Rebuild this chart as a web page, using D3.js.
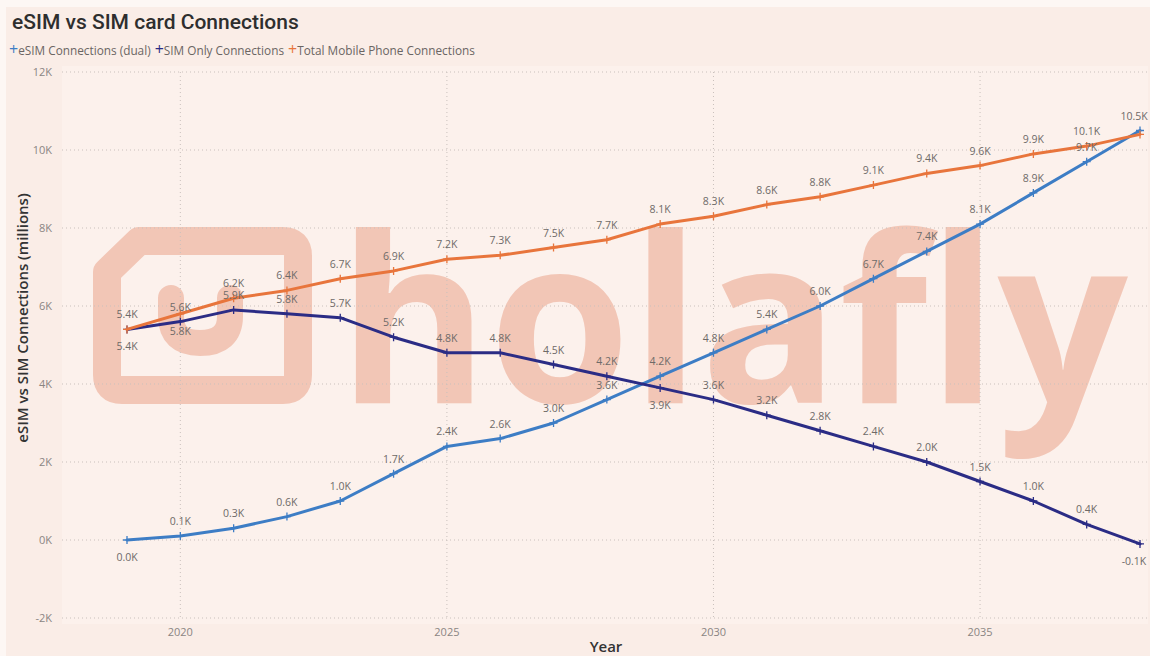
<!DOCTYPE html>
<html>
<head>
<meta charset="utf-8">
<script src="https://cdn.jsdelivr.net/npm/d3@7"></script>
<style>
  body { margin: 0; background: #fdf7f4; }
  svg { display: block; }
</style>
</head>
<body>
<svg id="chart" width="1150" height="656"></svg>
<script>
// data (connections, shown as K)
const years = [2019, 2020, 2021, 2022, 2023, 2024, 2025, 2026, 2027, 2028,
               2029, 2030, 2031, 2032, 2033, 2034, 2035, 2036, 2037, 2038];
const esim = [0, 100, 300, 600, 1000, 1700, 2400, 2600, 3000, 3600,
              4200, 4800, 5400, 6000, 6700, 7400, 8100, 8900, 9700, 10500];
const simOnly = [5400, 5600, 5900, 5800, 5700, 5200, 4800, 4800, 4500, 4200,
                 3900, 3600, 3200, 2800, 2400, 2000, 1500, 1000, 400, -100];
const total = [5400, 5800, 6200, 6400, 6700, 6900, 7200, 7300, 7500, 7700,
               8100, 8300, 8600, 8800, 9100, 9400, 9600, 9900, 10100, 10400];
const yTicks = [-2000, 0, 2000, 4000, 6000, 8000, 10000, 12000];
const xTicks = [2020, 2025, 2030, 2035];

const series = [
  { name: "eSIM Connections (dual)", values: esim, color: "#3d7dc5" },
  { name: "SIM Only Connections", values: simOnly, color: "#2b2c85" },
  { name: "Total Mobile Phone Connections", values: total, color: "#e8753c" }
];

// label placement like the original: some under the marker, one hidden (overlap)
const labelBelow = new Set(["0:2019", "1:2019", "2:2020", "1:2029", "1:2038"]);
const labelHidden = new Set(["2:2038"]);

const svg = d3.select("#chart");
const plot = { left: 62, right: 1148, top: 72, bottom: 618 };

const x = d3.scaleLinear().domain([2019, 2038]).range([127, 1140]);
const y = d3.scaleLinear().domain([-2000, 12000]).range([618, 72]);
const fmtK = v => (v / 1000).toFixed(1) + "K";

// background panels
svg.append("rect").attr("x", 6).attr("y", 7).attr("width", 1144).attr("height", 649)
  .attr("fill", "#faede7");
svg.append("rect").attr("x", plot.left).attr("y", plot.top - 6)
  .attr("width", plot.right - plot.left).attr("height", plot.bottom - plot.top + 12)
  .attr("fill", "#fcf1ec");

// watermark
const wmColor = "#f2c6b6";
const wm = svg.append("g").attr("fill", "none").attr("stroke", wmColor);
wm.append("path")
  .attr("d", "M107,272 L139,241 L283,241 Q298,241 298,256 L298,375 Q298,390 283,390 L122,390 Q107,390 107,375 Z")
  .attr("stroke-width", 28).attr("stroke-linejoin", "round");
wm.append("path")
  .attr("d", "M171,298 L171,316 Q171,343 200,343 Q230,343 230,316 L230,298")
  .attr("stroke-width", 26).attr("stroke-linecap", "round");
svg.append("text")
  .attr("x", 338).attr("y", 403)
  .attr("textLength", 790).attr("lengthAdjust", "spacingAndGlyphs")
  .attr("font-family", "Open Sans").attr("font-weight", 700).attr("font-size", 232)
  .attr("fill", wmColor)
  .text("holafly");

// grid
const grid = svg.append("g").attr("stroke", "#c9c0bc").attr("stroke-width", 1)
  .attr("stroke-dasharray", "1,3");
grid.selectAll(".hg").data(yTicks).join("line")
  .attr("x1", plot.left).attr("x2", plot.right)
  .attr("y1", d => y(d)).attr("y2", d => y(d));
grid.selectAll(".vg").data(xTicks).join("line")
  .attr("x1", d => x(d)).attr("x2", d => x(d))
  .attr("y1", plot.top).attr("y2", plot.bottom);

// axes labels
svg.append("g").selectAll("text").data(yTicks).join("text")
  .attr("x", 52).attr("y", d => y(d) + 4)
  .attr("text-anchor", "end")
  .attr("font-family", "Open Sans").attr("font-size", 11).attr("fill", "#8a8583")
  .text(d => (d / 1000) + "K");
svg.append("g").selectAll("text").data(xTicks).join("text")
  .attr("x", d => x(d)).attr("y", 636)
  .attr("text-anchor", "middle")
  .attr("font-family", "Open Sans").attr("font-size", 11).attr("fill", "#8a8583")
  .text(d => d);

svg.append("text")
  .attr("transform", "translate(28,318) rotate(-90)")
  .attr("text-anchor", "middle")
  .attr("font-family", "Open Sans").attr("font-weight", 600).attr("font-size", 15)
  .attr("fill", "#333")
  .text("eSIM vs SIM Connections (millions)");
svg.append("text")
  .attr("x", 606).attr("y", 652)
  .attr("text-anchor", "middle")
  .attr("font-family", "Open Sans").attr("font-weight", 600).attr("font-size", 15)
  .attr("fill", "#333")
  .text("Year");

// lines
const line = d3.line().x((d, i) => x(years[i])).y(d => y(d));

series.forEach(s => {
  const g = svg.append("g");
  g.append("path")
    .datum(s.values)
    .attr("fill", "none")
    .attr("stroke", s.color)
    .attr("stroke-width", 3)
    .attr("stroke-linejoin", "round")
    .attr("stroke-linecap", "round")
    .attr("d", line);
  // plus markers
  g.selectAll(".m").data(s.values).join("path")
    .attr("d", (d, i) => {
      const cx = x(years[i]), cy = y(d);
      return `M${cx - 4},${cy}H${cx + 4}M${cx},${cy - 4}V${cy + 4}`;
    })
    .attr("stroke", s.color).attr("stroke-width", 1.3);
});

// data labels
series.forEach((s, si) => {
  const pts = s.values.map((v, i) => ({ v, year: years[i], key: si + ":" + years[i] }))
    .filter(p => !labelHidden.has(p.key));
  svg.append("g").selectAll("text").data(pts).join("text")
    .attr("x", p => Math.min(x(p.year), 1134))
    .attr("y", p => y(p.v) + (labelBelow.has(p.key) ? 21 : -11))
    .attr("text-anchor", "middle")
    .attr("font-family", "Open Sans").attr("font-size", 10.5).attr("fill", "#6e6a68")
    .text(p => fmtK(p.v));
});

// title
svg.append("text")
  .attr("x", 12).attr("y", 29)
  .attr("font-family", "Roboto").attr("font-weight", 500).attr("font-size", 21)
  .attr("fill", "#2e2e2e")
  .text("eSIM vs SIM card Connections");

// legend
const legend = svg.append("text")
  .attr("x", 9).attr("y", 55)
  .attr("font-family", "Open Sans").attr("font-size", 11.8).attr("fill", "#6a6563");
series.forEach((s, si) => {
  legend.append("tspan").attr("fill", s.color).attr("font-size", 16)
    .attr("dx", si === 0 ? 0 : 4).text("+");
  legend.append("tspan").text(s.name);
});
</script>
</body>
</html>
